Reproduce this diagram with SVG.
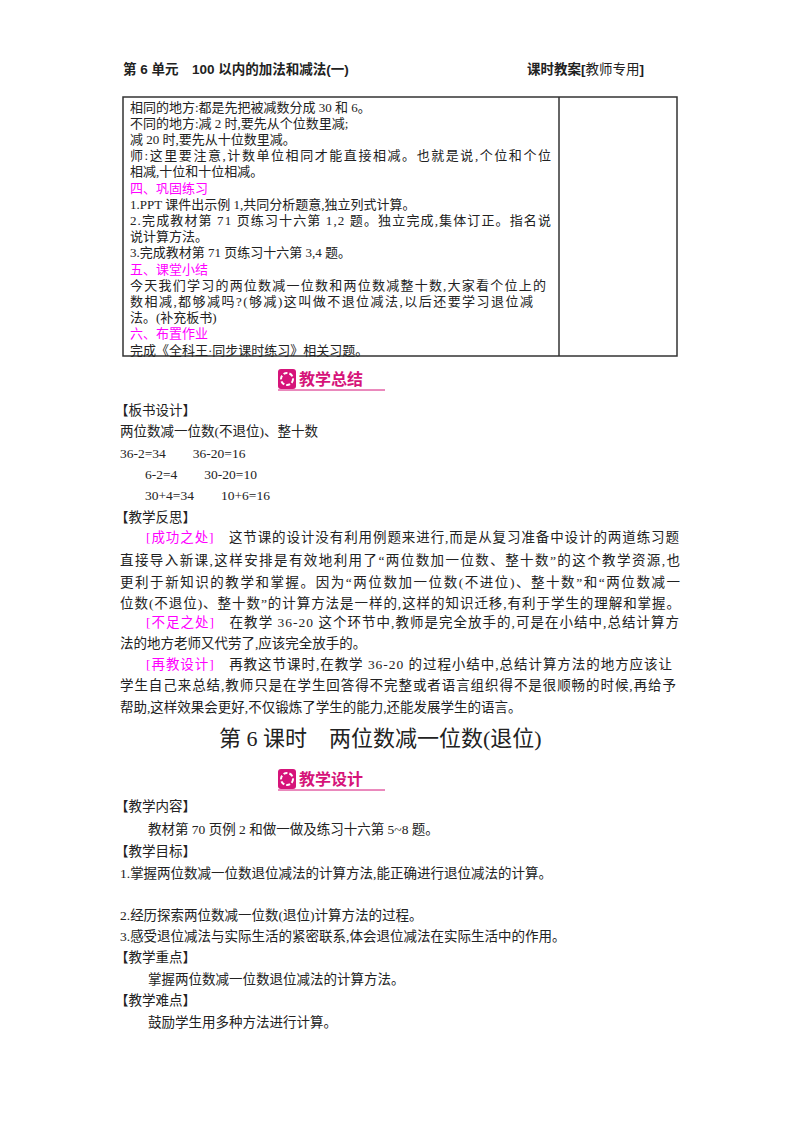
<svg xmlns="http://www.w3.org/2000/svg" width="800" height="1132" viewBox="0 0 800 1132">
<style>
text{font-family:"Liberation Serif","Noto Sans CJK SC",serif;font-size:13.5px;fill:#222}
#tabletext text{font-size:13px}
.m{fill:#f0f}
.h{font-family:"Liberation Sans","Noto Sans CJK SC",sans-serif;font-size:13.5px;font-weight:bold}
.t{font-size:22px}
.b{font-family:"Noto Sans CJK SC",sans-serif;font-size:16px;font-weight:bold;fill:#d6147a}
</style>
<rect width="800" height="1132" fill="#fff"/>
<text class="h" x="123" y="74">第 6 单元　100 以内的加法和减法(一)</text>
<text class="h" x="527" y="74">课时教案[<tspan font-weight="normal">教师专用</tspan>]</text>
<g id="table" fill="none" stroke="#333">
<rect x="123" y="97" width="554" height="259" stroke-width="1.5"/>
<line x1="559" y1="97" x2="559" y2="356" stroke-width="1.5"/>
</g>
<g id="tabletext">
<text x="130" y="111.5">相同的地方:都是先把被减数分成 30 和 6。</text>
<text x="130" y="127.7">不同的地方:减 2 时,要先从个位数里减;</text>
<text x="130" y="143.9">减 20 时,要先从十位数里减。</text>
<text x="130" y="160.1" textLength="421">师:这里要注意,计数单位相同才能直接相减。也就是说,个位和个位</text>
<text x="130" y="176.3">相减,十位和十位相减。</text>
<text class="m" x="130" y="192.5">四、巩固练习</text>
<text x="130" y="208.7">1.PPT 课件出示例 1,共同分析题意,独立列式计算。</text>
<text x="130" y="224.9" textLength="421">2.完成教材第 71 页练习十六第 1,2 题。独立完成,集体订正。指名说</text>
<text x="130" y="241.1">说计算方法。</text>
<text x="130" y="257.3">3.完成教材第 71 页练习十六第 3,4 题。</text>
<text class="m" x="130" y="273.5">五、课堂小结</text>
<text x="130" y="289.7" textLength="416">今天我们学习的两位数减一位数和两位数减整十数,大家看个位上的</text>
<text x="130" y="305.9" textLength="403">数相减,都够减吗?(够减)这叫做不退位减法,以后还要学习退位减</text>
<text x="130" y="322.1">法。(补充板书)</text>
<text class="m" x="130" y="338.3">六、布置作业</text>
<text x="130" y="354.5">完成《全科王·同步课时练习》相关习题。</text>
</g>
<g id="banner1">
<rect x="278" y="369" width="18" height="20" rx="3" fill="#d6147a"/>
<circle cx="287" cy="379" r="6" fill="none" stroke="#fff" stroke-width="2" stroke-dasharray="4 2"/>
<text class="b" x="299" y="385">教学总结</text>
<line x1="278" y1="390" x2="385" y2="390" stroke="#d6147a" stroke-width="1"/>
</g>
<g id="body1">
<text x="115" y="415">【板书设计】</text>
<text x="120" y="436">两位数减一位数(不退位)、整十数</text>
<text x="120" y="458">36-2=34　　36-20=16</text>
<text x="145" y="479">6-2=4　　30-20=10</text>
<text x="145" y="500">30+4=34　　10+6=16</text>
<text x="115" y="522">【教学反思】</text>
<text x="146" y="542" textLength="533"><tspan class="m">[成功之处]</tspan>　这节课的设计没有利用例题来进行,而是从复习准备中设计的两道练习题</text>
<text x="120" y="565" textLength="560">直接导入新课,这样安排是有效地利用了“两位数加一位数、整十数”的这个教学资源,也</text>
<text x="120" y="587" textLength="560">更利于新知识的教学和掌握。因为“两位数加一位数(不进位)、整十数”和“两位数减一</text>
<text x="120" y="608" textLength="560">位数(不退位)、整十数”的计算方法是一样的,这样的知识迁移,有利于学生的理解和掌握。</text>
<text x="146" y="627" textLength="533"><tspan class="m">[不足之处]</tspan>　在教学 36-20 这个环节中,教师是完全放手的,可是在小结中,总结计算方</text>
<text x="120" y="648">法的地方老师又代劳了,应该完全放手的。</text>
<text x="146" y="669" textLength="526"><tspan class="m">[再教设计]</tspan>　再教这节课时,在教学 36-20 的过程小结中,总结计算方法的地方应该让</text>
<text x="120" y="690" textLength="556">学生自己来总结,教师只是在学生回答得不完整或者语言组织得不是很顺畅的时候,再给予</text>
<text x="120" y="712">帮助,这样效果会更好,不仅锻炼了学生的能力,还能发展学生的语言。</text>
<text class="t" x="219" y="746">第 6 课时　两位数减一位数(退位)</text>
</g>
<g id="banner2">
<rect x="278" y="769" width="18" height="20" rx="3" fill="#d6147a"/>
<circle cx="287" cy="779" r="6" fill="none" stroke="#fff" stroke-width="2" stroke-dasharray="4 2"/>
<text class="b" x="299" y="785">教学设计</text>
<line x1="278" y1="790" x2="385" y2="790" stroke="#d6147a" stroke-width="1"/>
</g>
<g id="body2">
<text x="115" y="811">【教学内容】</text>
<text x="148" y="834">教材第 70 页例 2 和做一做及练习十六第 5~8 题。</text>
<text x="115" y="856">【教学目标】</text>
<text x="120" y="878">1.掌握两位数减一位数退位减法的计算方法,能正确进行退位减法的计算。</text>
<text x="120" y="920">2.经历探索两位数减一位数(退位)计算方法的过程。</text>
<text x="120" y="941">3.感受退位减法与实际生活的紧密联系,体会退位减法在实际生活中的作用。</text>
<text x="115" y="962">【教学重点】</text>
<text x="148" y="984">掌握两位数减一位数退位减法的计算方法。</text>
<text x="115" y="1005">【教学难点】</text>
<text x="148" y="1027">鼓励学生用多种方法进行计算。</text>
</g>
</svg>
